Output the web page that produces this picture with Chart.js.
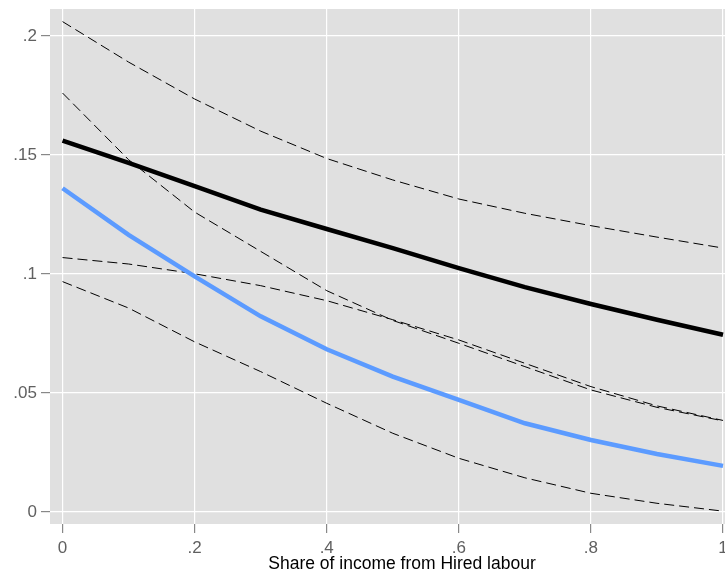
<!DOCTYPE html>
<html>
<head>
<meta charset="utf-8">
<script src="https://cdn.jsdelivr.net/npm/chart.js@4"></script>
<style>
  html, body { margin: 0; padding: 0; background: #ffffff; }
  #wrap { width: 725px; height: 575px; }
</style>
</head>
<body>
<div id="wrap"><canvas id="c" width="725" height="575"></canvas></div>
<script>
const xValues    = [0, 0.1, 0.2, 0.3, 0.4, 0.5, 0.6, 0.7, 0.8, 0.9, 1.0];
const blackLine  = [0.156, 0.1467, 0.1369, 0.127, 0.1189, 0.1109, 0.1025, 0.0945, 0.0874, 0.0808, 0.0745];
const blueLine   = [0.136, 0.1164, 0.099, 0.0822, 0.0684, 0.0569, 0.0471, 0.0373, 0.0303, 0.0244, 0.0194];
const blackUpper = [0.206, 0.189, 0.1735, 0.160, 0.1485, 0.1395, 0.1315, 0.1255, 0.1203, 0.1155, 0.1109];
const blackLower = [0.1069, 0.1042, 0.1001, 0.0951, 0.0888, 0.0808, 0.0723, 0.0625, 0.0527, 0.0446, 0.0385];
const blueUpper  = [0.176, 0.148, 0.126, 0.1095, 0.093, 0.0805, 0.0709, 0.0611, 0.0513, 0.044, 0.0383];
const blueLower  = [0.0968, 0.0857, 0.0715, 0.059, 0.0457, 0.0331, 0.0226, 0.0144, 0.0079, 0.0037, 0.0004];

const xTicks = [0, 0.2, 0.4, 0.6, 0.8, 1];
const xTickLabels = ["0", ".2", ".4", ".6", ".8", "1"];
const yTicks = [0, 0.05, 0.1, 0.15, 0.2];
const yTickLabels = ["0", ".05", ".1", ".15", ".2"];
const xTitle = "Share of income from Hired labour";

const toPts = arr => arr.map((v, i) => ({ x: xValues[i], y: v }));

const FONT = "'Liberation Sans', Arial, Helvetica, sans-serif";

const bgPlugin = {
  id: 'plotBg',
  beforeDraw(chart) {
    const { ctx, chartArea: a } = chart;
    ctx.save();
    ctx.fillStyle = '#e0e0e0';
    ctx.fillRect(a.left, a.top, a.right - a.left, a.bottom - a.top);
    ctx.restore();
  }
};

// Axis title placed like the reference (centred slightly right of the visible plot)
const titlePlugin = {
  id: 'xTitle',
  afterDraw(chart) {
    const { ctx } = chart;
    ctx.save();
    ctx.font = "17.5px " + FONT;
    ctx.fillStyle = '#000000';
    ctx.textAlign = 'center';
    ctx.textBaseline = 'alphabetic';
    ctx.fillText(xTitle, 402, 569);
    ctx.restore();
  }
};

function dashed(data) {
  return {
    data: toPts(data),
    borderColor: '#000000',
    borderWidth: 1,
    borderDash: [10, 5],
    pointRadius: 0,
    fill: false,
    tension: 0
  };
}

function zeroPad(scale) {
  scale.paddingLeft = 0;
  scale.paddingRight = 0;
  scale.paddingTop = 0;
  scale.paddingBottom = 0;
}

new Chart(document.getElementById('c'), {
  type: 'line',
  data: {
    datasets: [
      { data: toPts(blackLine), borderColor: '#000000', borderWidth: 4.5, pointRadius: 0, fill: false, tension: 0 },
      { data: toPts(blueLine), borderColor: '#5c9bff', borderWidth: 4.5, pointRadius: 0, fill: false, tension: 0 },
      dashed(blackUpper),
      dashed(blueUpper),
      dashed(blackLower),
      dashed(blueLower)
    ]
  },
  options: {
    responsive: false,
    animation: false,
    devicePixelRatio: 1,
    layout: { padding: { top: 9, right: 0, left: 0, bottom: 0 } },
    plugins: { legend: { display: false }, tooltip: { enabled: false } },
    scales: {
      x: {
        type: 'linear',
        min: -0.019,
        max: 1.003,
        afterBuildTicks(scale) { scale.ticks = xTicks.map(v => ({ value: v })); },
        afterFit(scale) { scale.height = 51; zeroPad(scale); },
        ticks: {
          autoSkip: false,
          maxRotation: 0,
          padding: 5,
          color: '#606060',
          font: { family: FONT, size: 17 },
          callback(v) { const i = xTicks.indexOf(v); return i >= 0 ? xTickLabels[i] : ''; }
        },
        grid: { color: '#ffffff', lineWidth: 1.2, tickColor: '#888888', tickLength: 9, tickWidth: 1.2 },
        border: { display: false },
        title: { display: false, text: xTitle }
      },
      y: {
        type: 'linear',
        min: -0.005,
        max: 0.2113,
        afterBuildTicks(scale) { scale.ticks = yTicks.map(v => ({ value: v })); },
        afterFit(scale) { scale.width = 50; zeroPad(scale); },
        ticks: {
          autoSkip: false,
          padding: 4,
          color: '#606060',
          font: { family: FONT, size: 17 },
          callback(v) { const i = yTicks.indexOf(v); return i >= 0 ? yTickLabels[i] : ''; }
        },
        grid: { color: '#ffffff', lineWidth: 1.2, tickColor: '#888888', tickLength: 9, tickWidth: 1.2 },
        border: { display: false }
      }
    }
  },
  plugins: [bgPlugin, titlePlugin]
});
</script>
</body>
</html>
